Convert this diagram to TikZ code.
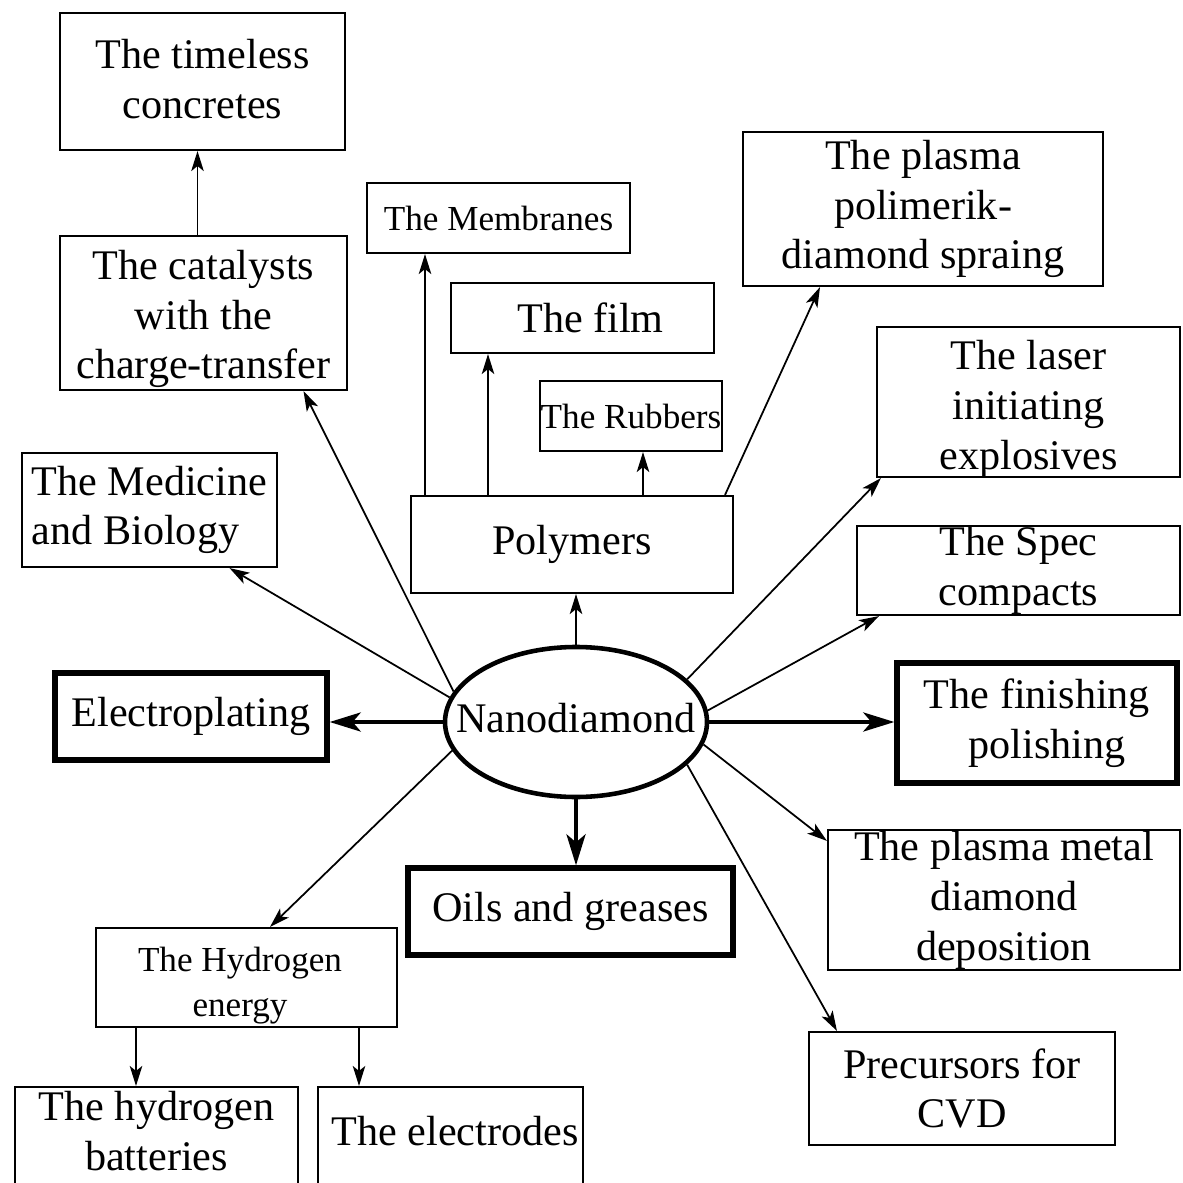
\documentclass[tikz,border=0pt]{standalone}
\usepackage{fontspec}
\setmainfont{Liberation Serif}
\usetikzlibrary{arrows.meta,shapes.geometric,calc}
\begin{document}
\begin{tikzpicture}[x=0.1mm,y=-0.1mm,
  box/.style={draw, rectangle, line width=0.6pt, inner sep=0pt, align=center, font=\fontsize{12}{14.2}\selectfont},
  thickbox/.style={box, line width=1.5pt},
  smallbox/.style={box, font=\fontsize{10}{12.8}\selectfont},
  txt/.style={inner sep=0pt, align=center, font=\fontsize{12}{14.2}\selectfont},
  smalltxt/.style={txt, font=\fontsize{10}{12.8}\selectfont},
  arr/.style={line width=0.5pt, -{Stealth[length=2mm, width=1.25mm, inset=0.5mm]}},
  thickarr/.style={line width=1.2pt, -{Stealth[length=3.1mm, width=1.9mm, inset=0.8mm]}}]
\useasboundingbox (0,0) rectangle (1182,1183);
\fill[white] (0,0) rectangle (1182,1183);
\clip (0,0) rectangle (1182,1183);

% nodes
\node[box, minimum width=28.5mm, minimum height=13.7mm] (timeless) at (202.5,81.5) {};
\node[txt] (timelesst) at (202.5,79) {The timeless\\concretes};
\node[box, minimum width=28.7mm, minimum height=15.4mm] (catal) at (203.5,313) {};
\node[txt] (catalt) at (203.5,319) {The catalysts\\with the\\charge-transfer};
\node[smallbox, minimum width=26.3mm, minimum height=7mm] (membr) at (498.5,218) {The Membranes};
\node[box, minimum width=26.3mm, minimum height=7mm] (film) at (582.5,318) {\hspace*{1.6mm}The film};
\node[smallbox, minimum width=18.2mm, minimum height=7mm] (rubb) at (631,416) {The Rubbers};
\node[box, minimum width=36mm, minimum height=15.4mm] (plpol) at (923,209) {The plasma\\polimerik-\\diamond spraing};
\node[box, minimum width=30.3mm, minimum height=15mm] (laser) at (1028.5,402) {};
\node[txt] (lasert) at (1028.5,409) {The laser\\initiating\\explosives};
\node[box, minimum width=25.5mm, minimum height=11.4mm] (medic) at (149.5,510) {\begin{tabular}{@{}l@{}}The Medicine\\and Biology\end{tabular}};
\node[box, minimum width=32.2mm, minimum height=9.7mm] (polym) at (572,544.5) {Polymers};
\node[box, minimum width=32.3mm, minimum height=8.9mm] (spec) at (1018.5,570.5) {The Spec\\compacts};
\node[thickbox, minimum width=27.2mm, minimum height=8.7mm] (elec) at (191,716.5) {Electroplating};
\node[draw, ellipse, line width=1.3pt, minimum width=26.2mm, minimum height=15mm, inner sep=0pt] (nano) at (576,722) {};
\node[txt] (nanot) at (576,718) {Nanodiamond};
\node[thickbox, minimum width=28mm, minimum height=12mm] (finish) at (1037,723) {The finishing\\\hspace*{2mm}polishing};
\node[box, minimum width=35.2mm, minimum height=14mm] (plmet) at (1004,900) {The plasma metal\\diamond\\deposition};
\node[thickbox, minimum width=32.5mm, minimum height=8.7mm] (oils) at (570.5,911.5) {Oils and greases};
\node[smallbox, minimum width=30.1mm, minimum height=9.9mm] (hydro) at (246.5,977.5) {};
\node[smalltxt] (hydrot) at (240,986) {The Hydrogen\\energy};
\node[box, minimum width=30.6mm, minimum height=11.3mm] (precur) at (962,1088.5) {Precursors for\\CVD};
\node[box, minimum width=28.3mm, minimum height=11.3mm] (bat) at (156.5,1143.5) {};
\node[txt] (batt) at (156.5,1131) {The hydrogen\\batteries};
\node[box, minimum width=26.5mm, minimum height=11.3mm] (electr) at (450.5,1143.5) {};
\node[txt] (electrt) at (455,1131) {The electrodes};

% helper coordinates
\coordinate (c1) at ([xshift=-0.6mm]catal.north);
\coordinate (p1) at ([xshift=-14.7mm]polym.north);
\coordinate (p2) at ([xshift=-8.4mm]polym.north);
\coordinate (p3) at ([xshift=7.1mm]polym.north);
\coordinate (h1) at ([xshift=-11.05mm]hydro.south);
\coordinate (h2) at ([xshift=11.25mm]hydro.south);

% connectors
\draw[arr] (c1) -- (c1 |- timeless.south);
\draw[arr] (nano.166) -- ([xshift=10mm]catal.south);
\draw[arr] (nano.169) -- ([xshift=8mm]medic.south);
\draw[thickarr] (nano.west) -- (nano.west -| elec.east);
\draw[arr] (nano.north) -- (nano.north |- polym.south);
\draw[arr] (p1) -- (p1 |- membr.south);
\draw[arr] (p2) -- (p2 |- film.south);
\draw[arr] (p3) -- (p3 |- rubb.south);
\draw[arr] ([xshift=15.3mm]polym.north) -- ([xshift=-10.3mm]plpol.south);
\draw[arr] (nano.21) -- ([xshift=0.5mm]laser.south west);
\draw[arr] (nano.5) -- ([xshift=2.3mm]spec.south west);
\draw[thickarr] (nano.east) -- (nano.east -| finish.west);
\draw[arr] (nano.350) -- ([yshift=-1.2mm]plmet.north west);
\draw[arr] (nano.339) -- ([xshift=2.9mm]precur.north west);
\draw[thickarr] (nano.south) -- (nano.south |- oils.north);
\draw[arr] (nano.193.5) -- ([xshift=2.35mm]hydro.north);
\draw[arr] (h1) -- (h1 |- bat.north);
\draw[arr] (h2) -- (h2 |- electr.north);
\end{tikzpicture}
\end{document}
